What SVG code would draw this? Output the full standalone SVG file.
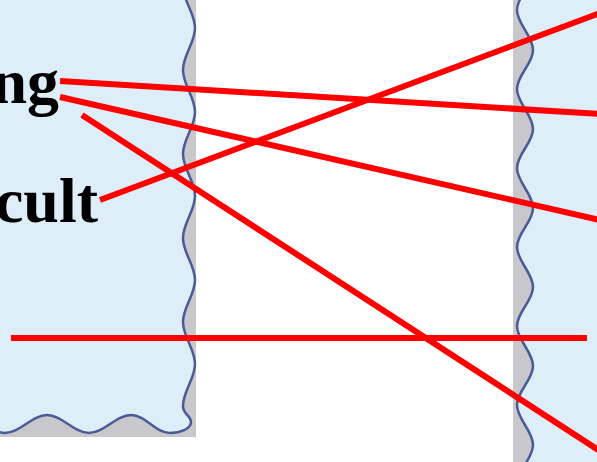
<svg xmlns="http://www.w3.org/2000/svg" width="597" height="462" viewBox="0 0 597 462">
<style>
.shadow{fill:#c8c8cc}
.panel{fill:#ddeef9}
.wave{fill:none;stroke:#4b5a96;stroke-width:2.5}
.lbl{font-family:"Liberation Serif","Times New Roman",serif;font-weight:bold;font-size:64px;fill:#000;text-anchor:end}
.conn{stroke:#ff0000;stroke-width:6;fill:none}
</style>
<rect width="597" height="462" fill="#ffffff"/>
<g id="left-panel">
<rect class="shadow" x="0" y="0" width="196" height="437"/>
<path class="panel" d="M -10 -14 L 183 -14 C 183 1, 195 13, 195 28 C 195 43, 183 55, 183 70 C 183 85, 195 97, 195 112 C 195 127, 183 139, 183 154 C 183 169, 195 181, 195 196 C 195 211, 183 223, 183 238 C 183 253, 195 265, 195 280 C 195 295, 183 307, 183 322 C 183 337, 195 349, 195 364 C 195 379, 183 391, 183 406 C 183 415, 191 415, 191 422 C 191 429, 180 433, 170 433 C 155 433, 146 415, 131 415 C 116 415, 104 433, 89 433 C 74 433, 62 415, 47 415 C 32 415, 20 433, 5 433 C 0 433, -5 431, -10 429 Z"/>
<path class="wave" d="M 183 -14 C 183 1, 195 13, 195 28 C 195 43, 183 55, 183 70 C 183 85, 195 97, 195 112 C 195 127, 183 139, 183 154 C 183 169, 195 181, 195 196 C 195 211, 183 223, 183 238 C 183 253, 195 265, 195 280 C 195 295, 183 307, 183 322 C 183 337, 195 349, 195 364 C 195 379, 183 391, 183 406 C 183 415, 191 415, 191 422 C 191 429, 180 433, 170 433 C 155 433, 146 415, 131 415 C 116 415, 104 433, 89 433 C 74 433, 62 415, 47 415 C 32 415, 20 433, 5 433 C 0 433, -5 431, -10 429"/>
<text class="lbl" x="59" y="103">ng</text>
<text class="lbl" x="98" y="222">cult</text>
</g>
<g id="right-panel">
<rect class="shadow" x="513" y="0" width="84" height="462"/>
<path class="panel" d="M 533 -29 C 533 -15, 517 -4, 517 10 C 517 24, 533 36, 533 50 C 533 64, 517 75, 517 89 C 517 103, 533 115, 533 129 C 533 143, 517 154, 517 168 C 517 182, 533 194, 533 208 C 533 222, 517 233, 517 247 C 517 261, 533 273, 533 287 C 533 301, 517 312, 517 326 C 517 340, 533 352, 533 366 C 533 380, 517 391, 517 405 C 517 419, 533 431, 533 445 C 533 459, 517 470, 517 484 L 600 484 L 600 -29 Z"/>
<path class="wave" d="M 533 -29 C 533 -15, 517 -4, 517 10 C 517 24, 533 36, 533 50 C 533 64, 517 75, 517 89 C 517 103, 533 115, 533 129 C 533 143, 517 154, 517 168 C 517 182, 533 194, 533 208 C 533 222, 517 233, 517 247 C 517 261, 533 273, 533 287 C 533 301, 517 312, 517 326 C 517 340, 533 352, 533 366 C 533 380, 517 391, 517 405 C 517 419, 533 431, 533 445 C 533 459, 517 470, 517 484"/>
</g>
<g id="connectors">
<line class="conn" x1="60" y1="81" x2="600" y2="114"/>
<line class="conn" x1="60" y1="97" x2="600" y2="220"/>
<line class="conn" x1="82" y1="115" x2="600" y2="451"/>
<line class="conn" x1="100" y1="200" x2="600" y2="13"/>
<line class="conn" x1="11" y1="338" x2="587" y2="338"/>
</g>
</svg>
